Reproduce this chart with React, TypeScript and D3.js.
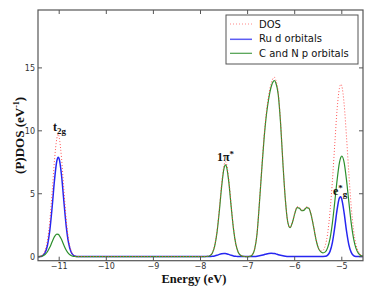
import React from "react";
import * as d3 from "d3";

const energy = [
  -11.45, -11.4, -11.35, -11.3, -11.25, -11.2, -11.15, -11.1, -11.05, -11.02, -11.0, -10.95, -10.9, -10.85, -10.8, -10.75, -10.7, -10.65, -10.6,
  -10.4, -10.0, -9.5, -9.0, -8.5, -8.1,
  -7.95, -7.9, -7.85, -7.8, -7.75, -7.7, -7.65, -7.6, -7.55, -7.5, -7.47, -7.45, -7.4, -7.35, -7.3, -7.25, -7.2, -7.15, -7.1, -7.05, -7.0,
  -6.95, -6.9, -6.85, -6.8, -6.75, -6.7, -6.65, -6.6, -6.55, -6.5, -6.45, -6.43,
  -6.4, -6.35, -6.3, -6.25, -6.2, -6.15, -6.1, -6.05, -6.0, -5.95, -5.9, -5.85, -5.8, -5.75, -5.7, -5.65, -5.6, -5.55, -5.5, -5.45, -5.4, -5.35,
  -5.3, -5.25, -5.2, -5.15, -5.1, -5.05, -5.02, -5.0, -4.95, -4.9, -4.85, -4.8, -4.75, -4.7, -4.65, -4.6, -4.55,
];

const ruD = [
  0.0, 0.02, 0.09, 0.31, 0.89, 2.07, 3.93, 6.07, 7.61, 7.9, 7.77, 6.45, 4.36, 2.39, 1.07, 0.39, 0.11, 0.03, 0.01,
  0.01, 0.01, 0.01, 0.01, 0.01, 0.01,
  0.01, 0.01, 0.01, 0.02, 0.03, 0.06, 0.11, 0.18, 0.23, 0.25, 0.25, 0.23, 0.18, 0.11, 0.06, 0.03, 0.01, 0.01, 0.01, 0.01, 0.01,
  0.01, 0.01, 0.02, 0.04, 0.07, 0.11, 0.16, 0.22, 0.26, 0.27, 0.26, 0.25,
  0.22, 0.16, 0.11, 0.07, 0.04, 0.02, 0.02, 0.02, 0.02, 0.02, 0.02, 0.02, 0.02, 0.02, 0.02, 0.02, 0.02, 0.02, 0.02, 0.02, 0.02, 0.03,
  0.12, 0.42, 1.12, 2.32, 3.73, 4.67, 4.76, 4.55, 3.46, 2.04, 0.94, 0.34, 0.09, 0.02, 0.01, 0.01, 0.01,
];

const cnP = [
  0.0, 0.02, 0.06, 0.17, 0.39, 0.74, 1.18, 1.59, 1.79, 1.77, 1.7, 1.36, 0.91, 0.51, 0.24, 0.1, 0.03, 0.01, 0.0,
  0.0, 0.0, 0.0, 0.0, 0.0, 0.0,
  0.0, 0.01, 0.02, 0.08, 0.28, 0.82, 1.91, 3.63, 5.61, 7.03, 7.3, 7.18, 5.96, 4.02, 2.21, 0.99, 0.36, 0.11, 0.03, 0.01, 0.0,
  0.02, 0.15, 0.6, 1.8, 4.2, 6.9, 9.4, 11.3, 12.6, 13.5, 13.95, 14.0,
  13.8, 12.9, 10.6, 7.4, 4.6, 2.8, 2.3, 2.7, 3.4, 3.9, 3.85, 3.65, 3.7, 3.9, 3.85, 3.3, 2.4, 1.4, 0.7, 0.4, 0.3, 0.38,
  0.72, 1.44, 2.67, 4.33, 6.08, 7.47, 7.9, 8.0, 7.47, 6.08, 4.33, 2.67, 1.44, 0.68, 0.28, 0.1, 0.04,
];

const dos = [
  0.0, 0.04, 0.15, 0.48, 1.28, 2.81, 5.11, 7.66, 9.4, 9.75, 9.47, 7.81, 5.27, 2.9, 1.31, 0.49, 0.14, 0.04, 0.01,
  0.01, 0.01, 0.01, 0.01, 0.01, 0.01,
  0.01, 0.02, 0.03, 0.1, 0.31, 0.88, 2.02, 3.81, 5.84, 7.28, 7.55, 7.41, 6.14, 4.13, 2.27, 1.02, 0.37, 0.12, 0.04, 0.02, 0.01,
  0.03, 0.16, 0.62, 1.84, 4.27, 7.01, 9.56, 11.52, 12.86, 13.77, 14.21, 14.25,
  14.02, 13.06, 10.71, 7.47, 4.64, 2.82, 2.32, 2.72, 3.45, 3.97, 3.92, 3.7, 3.76, 3.97, 3.9, 3.34, 2.43, 1.43, 0.73, 0.45, 0.5, 0.9,
  1.85, 3.6, 6.0, 8.9, 11.7, 13.4, 13.7, 13.56, 12.1, 9.5, 6.6, 3.98, 2.1, 1.0, 0.42, 0.15, 0.06,
];

const xTicks = [-11, -10, -9, -8, -7, -6, -5];
const yTicks = [0, 5, 10, 15];
const legendLabels = ["DOS", "Ru d orbitals", "C and N p orbitals"];

const W = 374;
const H = 288;
const L = 38, R = 363, T = 10, B = 260.7;

export default function App() {
  const x = d3.scaleLinear().domain([-11.45, -4.55]).range([L, R]);
  const y = d3.scaleLinear().domain([-0.32, 19.6]).range([B, T]);
  const mk = (vals: number[]) =>
    d3
      .line<number>()
      .x((_, i) => x(energy[i]))
      .y((v) => y(v))
      .curve(d3.curveMonotoneX)(vals) || "";

  const red = "#ff3b3b";
  const blue = "#2626f0";
  const green = "#2c8f2c";
  const axisColor = "#555";
  const tickFont = "DejaVu Sans";
  const serif = "Liberation Serif, Times New Roman, serif";

  return (
    <svg width={W} height={H} style={{ position: "absolute", left: 0, top: 0, background: "#fff" }}>
      <rect x={0} y={0} width={W} height={H} fill="#fff" />
      <defs>
        <clipPath id="plotclip">
          <rect x={L} y={T} width={R - L} height={B - T} />
        </clipPath>
      </defs>
      <g clipPath="url(#plotclip)">
        <path d={mk(ruD)} fill="none" stroke={blue} strokeWidth={1.5} />
        <path d={mk(cnP)} fill="none" stroke={green} strokeWidth={1.2} />
        <path d={mk(dos)} fill="none" stroke={red} strokeWidth={1} strokeDasharray="1,2" opacity={0.85} />
      </g>
      <rect x={L} y={T} width={R - L} height={B - T} fill="none" stroke={axisColor} strokeWidth={1.2} />
      {xTicks.map((t) => (
        <g key={"x" + t}>
          <line x1={x(t)} x2={x(t)} y1={B} y2={B - 4} stroke={axisColor} strokeWidth={1} />
          <line x1={x(t)} x2={x(t)} y1={T} y2={T + 4} stroke={axisColor} strokeWidth={1} />
          <text x={x(t)} y={269} textAnchor="middle" fontFamily={tickFont} fontSize={8} fill="#333">
            {"\u2212" + Math.abs(t)}
          </text>
        </g>
      ))}
      {yTicks.map((t) => (
        <g key={"y" + t}>
          <line x1={L} x2={L + 4} y1={y(t)} y2={y(t)} stroke={axisColor} strokeWidth={1} />
          <line x1={R} x2={R - 4} y1={y(t)} y2={y(t)} stroke={axisColor} strokeWidth={1} />
          <text x={35} y={y(t) + 3} textAnchor="end" fontFamily={tickFont} fontSize={8} fill="#333">
            {t}
          </text>
        </g>
      ))}
      <text x={194} y={282.5} textAnchor="middle" fontFamily={serif} fontWeight="bold" fontSize={12.5} fill="#111">
        Energy (eV)
      </text>
      <text
        transform={`translate(23.5, ${(T + B) / 2}) rotate(-90)`}
        textAnchor="middle"
        fontFamily={serif}
        fontWeight="bold"
        fontSize={13}
        fill="#111"
      >
        (P)DOS (eV<tspan dy={-5} fontSize={8}>-1</tspan>
        <tspan dy={5}>)</tspan>
      </text>
      {/* annotations */}
      <text x={53} y={131} fontFamily={serif} fontWeight="bold" fontSize={12} fill="#111">
        t<tspan dy={3} fontSize={9}>2g</tspan>
      </text>
      <text x={217} y={161} fontFamily={serif} fontWeight="bold" fontSize={12} fill="#111">
        1π<tspan dy={-4} fontSize={9}>*</tspan>
      </text>
      <text x={333} y={195} fontFamily={serif} fontWeight="bold" fontSize={12} fill="#111">
        e<tspan dy={-4} fontSize={9}>*</tspan>
        <tspan dy={6} fontSize={9}>g</tspan>
      </text>
      {/* legend */}
      <rect x={226} y={15} width={132} height={49} fill="#fff" stroke={axisColor} strokeWidth={1} />
      <line x1={230} x2={252} y1={24} y2={24} stroke={red} strokeWidth={1} strokeDasharray="1,2" opacity={0.6} />
      <line x1={230} x2={252} y1={39.3} y2={39.3} stroke={blue} strokeWidth={1.5} opacity={0.75} />
      <line x1={230} x2={252} y1={53.3} y2={53.3} stroke={green} strokeWidth={1.2} opacity={0.85} />
      {legendLabels.map((lab, i) => (
        <text key={lab} x={259} y={27.5 + i * 14.6} fontFamily={tickFont} fontSize={10} fill="#111">
          {lab}
        </text>
      ))}
    </svg>
  );
}
